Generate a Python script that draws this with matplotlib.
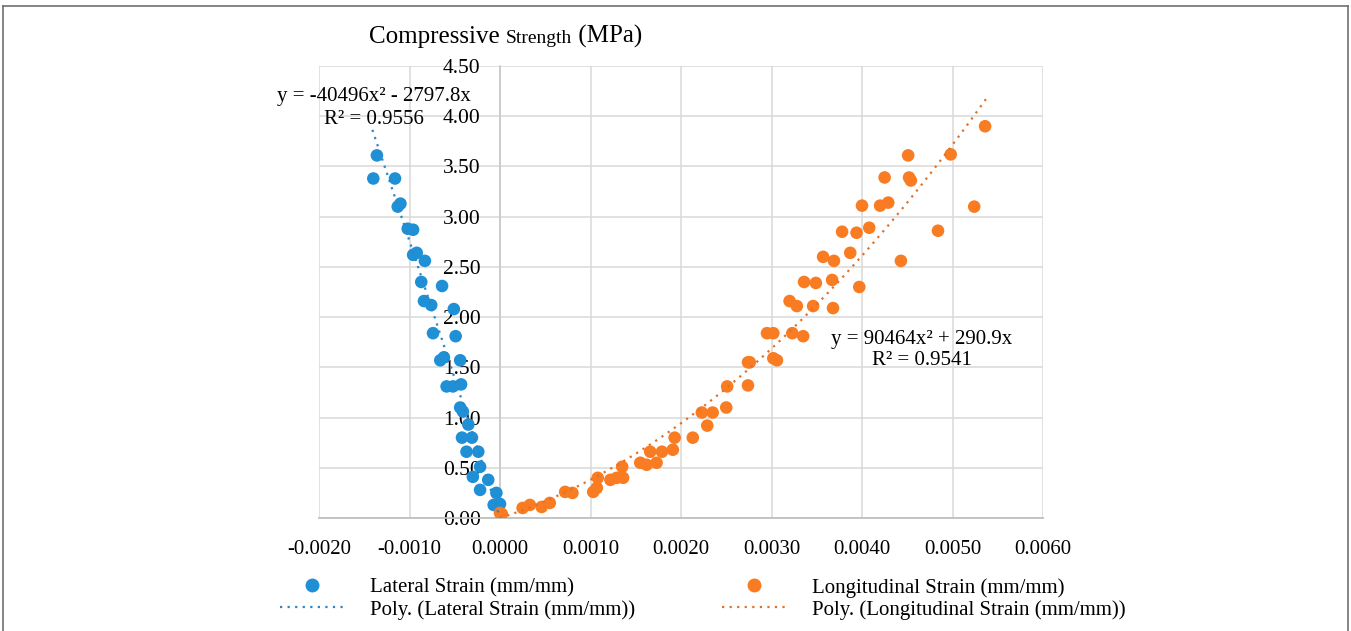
import numpy as np
import matplotlib.pyplot as plt
from matplotlib.lines import Line2D

# Lateral strain (mm/mm) vs compressive strength (MPa)
lat_x = [-0.00136, -0.00140, -0.00116, -0.00110, -0.00113, -0.00102, -0.00096,
         -0.00096, -0.00092, -0.00083, -0.00087, -0.00064, -0.00084, -0.00076,
         -0.00051, -0.00074, -0.00049, -0.00066, -0.00062, -0.00044, -0.00059,
         -0.00052, -0.00043, -0.00044, -0.00041, -0.00035, -0.00042, -0.00031,
         -0.00037, -0.00024, -0.00022, -0.00030, -0.00013, -0.00022, -0.00004,
         -0.00007, 0.00000]
lat_y = [3.61, 3.38, 3.38, 3.13, 3.10, 2.88, 2.87,
         2.62, 2.64, 2.56, 2.35, 2.31, 2.16, 2.12,
         2.08, 1.84, 1.81, 1.57, 1.60, 1.57, 1.31,
         1.31, 1.33, 1.10, 1.06, 0.93, 0.80, 0.80,
         0.66, 0.66, 0.51, 0.41, 0.38, 0.28, 0.25,
         0.13, 0.14]

# Longitudinal strain (mm/mm) vs compressive strength (MPa)
lon_x = [0.00000, 0.00002, 0.00025, 0.00033, 0.00046, 0.00055, 0.00072, 0.00080,
         0.00103, 0.00107, 0.00108, 0.00122, 0.00129, 0.00136, 0.00135, 0.00155,
         0.00162, 0.00173, 0.00166, 0.00179, 0.00191, 0.00193, 0.00213, 0.00223,
         0.00235, 0.00229, 0.00250, 0.00251, 0.00274, 0.00276, 0.00274, 0.00295,
         0.00302, 0.00302, 0.00306, 0.00323, 0.00335, 0.00320, 0.00328, 0.00346,
         0.00368, 0.00336, 0.00349, 0.00367, 0.00397, 0.00357, 0.00369, 0.00387,
         0.00443, 0.00378, 0.00394, 0.00408, 0.00484, 0.00400, 0.00420, 0.00429,
         0.00524, 0.00425, 0.00452, 0.00454, 0.00451, 0.00498, 0.00536]
lon_y = [0.05, 0.04, 0.10, 0.13, 0.11, 0.15, 0.26, 0.25,
         0.26, 0.30, 0.40, 0.38, 0.40, 0.40, 0.51, 0.55,
         0.53, 0.55, 0.66, 0.66, 0.68, 0.80, 0.80, 1.05,
         1.05, 0.92, 1.10, 1.31, 1.55, 1.55, 1.32, 1.84,
         1.84, 1.59, 1.57, 1.84, 1.81, 2.16, 2.11, 2.11,
         2.09, 2.35, 2.34, 2.37, 2.30, 2.60, 2.56, 2.64,
         2.56, 2.85, 2.84, 2.89, 2.86, 3.11, 3.11, 3.14,
         3.10, 3.39, 3.39, 3.36, 3.61, 3.62, 3.90]

# trendline coefficients shown on the chart (y = a x^2 + b x)
lat_fit = [-40496, -2797.8]
lon_fit = [90464, 290.9]
lat_eq = ["y = -40496x² - 2797.8x", "R² = 0.9556"]
lon_eq = ["y = 90464x² + 290.9x", "R² = 0.9541"]

x_ticks = [-0.002, -0.001, 0.0, 0.001, 0.002, 0.003, 0.004, 0.005, 0.006]
y_ticks = [0.0, 0.5, 1.0, 1.5, 2.0, 2.5, 3.0, 3.5, 4.0, 4.5]

blue = '#1f8fd6'
orange = '#f97b22'
serif = ['Liberation Serif', 'DejaVu Serif']
plt.rcParams['font.family'] = serif

W, H = 1351, 631
fig = plt.figure(figsize=(W / 100, H / 100), dpi=100)
ax = fig.add_axes([319 / W, 1 - 518 / H, (1043 - 319) / W, (518 - 66) / H])

# trendlines
xl = np.linspace(min(lat_x) - 0.00001, 0, 100)
xr = np.linspace(0, max(lon_x) + 0.00002, 100)
ax.plot(xl, np.polyval(lat_fit + [0], xl), color='#2a86c4', lw=1.6,
        linestyle=(0, (1, 2.4)), zorder=4)
ax.plot(xr, np.polyval(lon_fit + [0], xr), color='#e07228', lw=1.6,
        linestyle=(0, (1, 2.4)), zorder=4)

ax.scatter(lat_x, lat_y, s=82, color=blue, edgecolors='none', zorder=3)
ax.scatter(lon_x, lon_y, s=82, color=orange, edgecolors='none', zorder=3)

ax.set_xlim(-0.002, 0.006)
ax.set_ylim(0, 4.5)
ax.set_xticks(x_ticks)
ax.set_xticklabels(['%.4f' % v for v in x_ticks])
ax.set_yticks(y_ticks)
ax.set_yticklabels(['%.2f' % v for v in y_ticks])
ax.tick_params(axis='x', length=0, pad=16, labelsize=15)
ax.tick_params(axis='y', length=0, pad=14, labelsize=15.5)
ax.grid(True, color='#d9d9d9', lw=1.1)
ax.set_axisbelow(True)
for s in ['top', 'right']:
    ax.spines[s].set_visible(False)
ax.spines['left'].set_position(('data', 0))
ax.spines['left'].set_color('#c8c8c8')
ax.spines['left'].set_linewidth(1.1)
ax.spines['bottom'].set_color('#bfbfbf')
ax.spines['bottom'].set_linewidth(1.3)

# equations, one text per line
for (cx, cy), lines in [((374, 97), lat_eq), ((922, 339), lon_eq)]:
    for i, line in enumerate(lines):
        fig.text(cx / W, 1 - (cy + 22 * i) / H, line, ha='center',
                 va='center', fontsize=15)

# title with smaller middle word
renderer = fig.canvas.get_renderer()
x0 = 369 / W
ty = 1 - 43 / H
for txt, fs in [('Compressive ', 18), ('Strength', 14), (' (MPa)', 18)]:
    t = fig.text(x0, ty, txt, fontsize=fs, ha='left', va='baseline')
    bb = t.get_window_extent(renderer)
    x0 = bb.x1 / W

# legend
handles = [
    Line2D([], [], marker='o', ls='none', color=blue, markersize=9),
    Line2D([], [], color='#2a86c4', lw=1.6, linestyle=(0, (1, 2.4))),
    Line2D([], [], marker='o', ls='none', color=orange, markersize=9),
    Line2D([], [], color='#e07228', lw=1.6, linestyle=(0, (1, 2.4))),
]
labels = ['Lateral Strain (mm/mm)', 'Poly. (Lateral Strain (mm/mm))',
          'Longitudinal Strain (mm/mm)', 'Poly. (Longitudinal Strain (mm/mm))']
fig.legend(handles, labels, ncol=2, loc='upper left',
           bbox_to_anchor=(280 / W, 1 - 578 / H), frameon=False, fontsize=15,
           handlelength=3.1, handletextpad=1.2, columnspacing=4.2,
           labelspacing=0.1, borderpad=0, borderaxespad=0)

# outer frame (top, left, right)
frame = dict(color='#707070', lw=1.2, transform=fig.transFigure)
fig.add_artist(Line2D([3 / W, 1348 / W], [1 - 6 / H, 1 - 6 / H], **frame))
fig.add_artist(Line2D([3 / W, 3 / W], [0, 1 - 6 / H], **frame))
fig.add_artist(Line2D([1348 / W, 1348 / W], [0, 1 - 6 / H], **frame))

fig.savefig('out.png', dpi=100)
